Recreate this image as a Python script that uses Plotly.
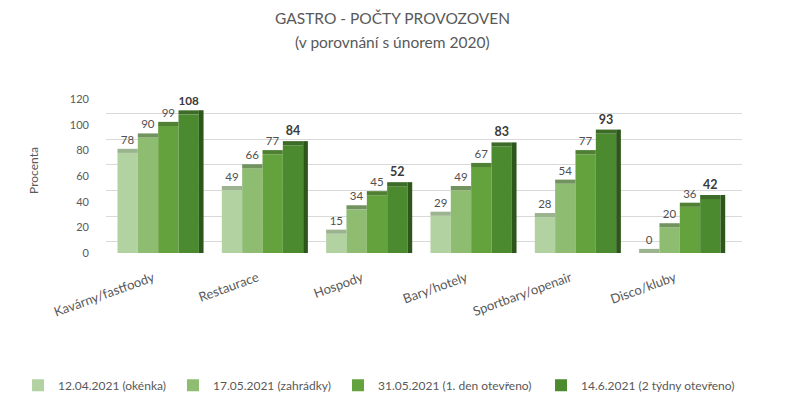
import plotly.graph_objects as go

categories = ["Kavárny/fastfoody", "Restaurace", "Hospody", "Bary/hotely", "Sportbary/openair", "Disco/kluby"]
series_names = ["12.04.2021 (okénka)", "17.05.2021 (zahrádky)", "31.05.2021 (1. den otevřeno)", "14.6.2021 (2 týdny otevřeno)"]
s1 = [78, 49, 15, 29, 28, 0]
s2 = [90, 66, 34, 49, 54, 20]
s3 = [99, 77, 45, 67, 77, 36]
s4 = [108, 84, 52, 83, 93, 42]
y_ticks = [0, 20, 40, 60, 80, 100, 120]
title_line1 = "GASTRO - POČTY PROVOZOVEN"
title_line2 = "(v porovnání s únorem 2020)"

front_colors = ["#b3d2a2", "#8ebc71", "#64a23e", "#4b8a2e"]
top_colors = ["#9bb38f", "#71935e", "#4f8033", "#3c6c27"]
side_color = "#2c561a"
FONT = "Lato"
GREY = "#595959"

CAP = 3.2          # depth of the 3-D top face, in axis units
BAR_W = 0.195      # width of one bar (category units)
SIDE_W = 0.045     # visible right side face of the last bar
GRID_SHIFT = 8.6   # back-wall gridlines sit higher than the front scale

legend_x = [-0.1383, 0.1053, 0.3648, 0.6840]
legend_y = -0.714

all_series = [s1, s2, s3, s4]
fig = go.Figure()
for i, (name, vals) in enumerate(zip(series_names, all_series)):
    off = -2 * BAR_W + i * BAR_W
    lg = "legend" if i == 0 else f"legend{i+1}"
    # front face
    fig.add_trace(go.Bar(
        x=categories, y=vals, name=name, offset=off, width=BAR_W,
        marker=dict(color=front_colors[i], line=dict(width=0)),
        legend=lg, hoverinfo="x+y+name",
    ))
for i, vals in enumerate(all_series):
    off = -2 * BAR_W + i * BAR_W
    bold = i == 3
    # top face with the value label
    fig.add_trace(go.Bar(
        x=categories, y=[CAP] * len(vals), base=vals, offset=off, width=BAR_W,
        marker=dict(color=top_colors[i], line=dict(width=0)),
        text=[f"<b>{v}</b>" if bold else str(v) for v in vals],
        textposition="outside",
        textfont=dict(family=FONT, size=12.5 if bold else 11.5,
                      color="#3a3a3a" if bold else "#505050"),
        cliponaxis=False, showlegend=False, hoverinfo="skip",
    ))
# right side face of the last bar of each group
fig.add_trace(go.Bar(
    x=categories, y=[v + CAP for v in s4], offset=2 * BAR_W, width=SIDE_W,
    marker=dict(color=side_color, line=dict(width=0)),
    showlegend=False, hoverinfo="skip",
))
# invisible trace on the back-wall axis so its gridlines are drawn
fig.add_trace(go.Scatter(
    x=categories, y=s1, yaxis="y2", mode="markers",
    marker=dict(opacity=0), showlegend=False, hoverinfo="skip",
))

legends = {}
for i in range(4):
    key = "legend" if i == 0 else f"legend{i+1}"
    legends[key] = dict(
        orientation="h", x=legend_x[i], xanchor="left", y=legend_y, yanchor="top",
        font=dict(family=FONT, size=12, color=GREY),
        itemwidth=30, bgcolor="rgba(0,0,0,0)",
    )

top_val = 120 + GRID_SHIFT
fig.update_layout(
    width=785, height=395,
    paper_bgcolor="white", plot_bgcolor="white",
    margin=dict(l=106, r=43, t=88, b=142, autoexpand=False),
    barmode="overlay",
    font=dict(family=FONT, color=GREY),
    showlegend=True,
    xaxis=dict(
        range=[-0.5, 5.596],
        tickangle=-20, tickfont=dict(family=FONT, size=13, color=GREY),
        showline=False, ticks="", showgrid=False,
        ticklabelstandoff=14, ticklabelshift=-5,
    ),
    yaxis=dict(
        range=[0, top_val], tickvals=y_ticks,
        tickfont=dict(family=FONT, size=11, color=GREY),
        showgrid=False, zeroline=False, showline=False,
        ticklabelstandoff=16,
        title=dict(text="Procenta", font=dict(family=FONT, size=12, color=GREY), standoff=28),
    ),
    yaxis2=dict(
        overlaying="y", side="left",
        range=[-GRID_SHIFT, 120], tickvals=y_ticks, showticklabels=False,
        showgrid=True, gridcolor="#d9d9d9", gridwidth=1.3,
        zeroline=False, showline=False,
    ),
    annotations=[
        dict(text=title_line1, xref="paper", yref="paper", x=(392 - 106) / 636,
             y=(395 - 142 - 18) / (395 - 142 - 88),
             xanchor="center", yanchor="middle", showarrow=False,
             font=dict(family=FONT, size=15.5, color=GREY)),
        dict(text=title_line2, xref="paper", yref="paper", x=(392 - 106) / 636,
             y=(395 - 142 - 42) / (395 - 142 - 88),
             xanchor="center", yanchor="middle", showarrow=False,
             font=dict(family=FONT, size=15.5, color=GREY)),
    ],
    **legends,
)

fig.write_html("out.html", config={"displayModeBar": False},
               post_script="document.body.style.margin='0';")
